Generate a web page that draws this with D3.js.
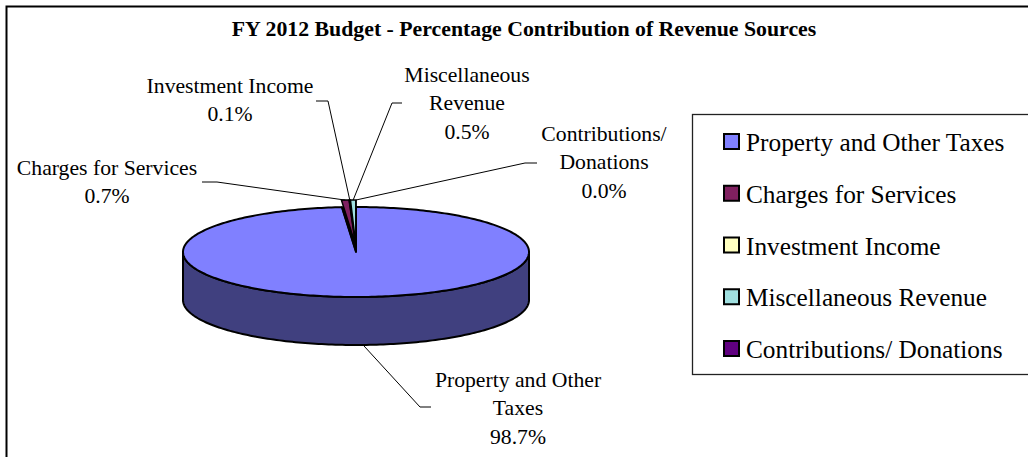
<!DOCTYPE html>
<html>
<head>
<meta charset="utf-8">
<script src="https://cdn.jsdelivr.net/npm/d3@7/dist/d3.min.js"></script>
<style>
  html, body { margin: 0; padding: 0; background: #fff; }
  svg { display: block; font-family: "Liberation Serif", "Times New Roman", serif; }
</style>
</head>
<body>
<svg id="chart" width="1028" height="457"></svg>
<script>
// Revenue sources and their share of the FY 2012 budget (percent)
const categories = [
  "Property and Other Taxes",
  "Charges for Services",
  "Investment Income",
  "Miscellaneous Revenue",
  "Contributions/ Donations"
];
const shares = [98.7, 0.7, 0.1, 0.5, 0.0];
const title = "FY 2012 Budget - Percentage Contribution of Revenue Sources";

// Slice label text lines (percent appended from the share)
const labelLines = [
  ["Property and Other", "Taxes"],
  ["Charges for Services"],
  ["Investment Income"],
  ["Miscellaneous", "Revenue"],
  ["Contributions/", "Donations"]
];

// Styling
const topColors  = ["#8080ff", "#802060", "#ffffc0", "#a0e0e0", "#600080"];
const sideColors = ["#40407f", "#401030", "#808060", "#507070", "#300040"];

// Label placement: text centre x, first line y, leader start & elbow
const labelLayout = [
  { x: 518, y: 380, start: [431, 407], elbow: [420, 407] },
  { x: 107, y: 168, start: [202, 182], elbow: [217, 182] },
  { x: 230, y: 86,  start: [316, 101], elbow: [328, 101] },
  { x: 467, y: 75,  start: [402, 103], elbow: [392, 103] },
  { x: 604, y: 134, start: [537, 163], elbow: [525, 163] }
];

const svg = d3.select("#chart");

// Chart area frame
svg.append("rect")
  .attr("x", 6.5).attr("y", 6.5)
  .attr("width", 1040).attr("height", 470)
  .attr("fill", "#fff").attr("stroke", "#000").attr("stroke-width", 2);

svg.append("text")
  .attr("x", 524).attr("y", 29)
  .attr("text-anchor", "middle").attr("dominant-baseline", "central")
  .attr("font-weight", "bold").attr("font-size", 21.8)
  .text(title);

// 3-D pie geometry
const cx = 356, cy = 252, rx = 173, ry = 45, depth = 48, explode = 7;
const ell = (a, r = 1) => [cx + rx * r * Math.sin(a), cy - ry * r * Math.cos(a)];

const pie = d3.pie().sort(null).value(d => d).startAngle(0).endAngle(2 * Math.PI);
const arcs = pie(shares).map((a, i) => ({ ...a, i }));

const line = d3.line();
function arcPoints(a0, a1, dy = 0) {
  const n = Math.max(2, Math.ceil(Math.abs(a1 - a0) / 0.02));
  return d3.range(n + 1).map(k => {
    const a = a0 + (a1 - a0) * k / n;
    const p = ell(a);
    return [p[0], p[1] + dy];
  });
}
function offsetOf(d) {
  if (d.index === 0) return [0, 0];
  const m = (d.startAngle + d.endAngle) / 2;
  return [explode * Math.sin(m), -explode * Math.cos(m)];
}
function slicePath(d) {
  const [ox, oy] = offsetOf(d);
  const pts = [[cx, cy], ...arcPoints(d.startAngle, d.endAngle)]
    .map(p => [p[0] + ox, p[1] + oy]);
  return line(pts) + "Z";
}

const pieG = svg.append("g");

// Front wall of the main slice
const main = arcs[0];
const wallA0 = Math.max(main.startAngle, Math.PI / 2);
const wallA1 = Math.min(main.endAngle, 3 * Math.PI / 2);
const wallPts = arcPoints(wallA0, wallA1).concat(arcPoints(wallA1, wallA0, depth));
pieG.append("path")
  .attr("d", line(wallPts) + "Z")
  .attr("fill", sideColors[0])
  .attr("stroke", "#000").attr("stroke-width", 2).attr("stroke-linejoin", "round");

// Top of the main slice
pieG.append("path")
  .attr("d", slicePath(main))
  .attr("fill", topColors[0])
  .attr("stroke", "#000").attr("stroke-width", 2).attr("stroke-linejoin", "round");

// Gap left by the pulled-out small slices
const small = arcs.slice(1);
pieG.append("path")
  .attr("d", line([[cx, cy], ...arcPoints(main.endAngle, 2 * Math.PI)]) + "Z")
  .attr("fill", "#000").attr("stroke", "#000").attr("stroke-width", 1.5);

// Small slices, slightly exploded
pieG.selectAll("path.small")
  .data(small)
  .join("path")
  .attr("class", "small")
  .attr("d", slicePath)
  .attr("fill", d => topColors[d.i])
  .attr("stroke", "#000").attr("stroke-width", 1.5).attr("stroke-linejoin", "miter");

// Leader lines and labels
const labelG = svg.append("g");
arcs.forEach(d => {
  const L = labelLayout[d.i];
  const m = (d.startAngle + d.endAngle) / 2;
  const [ox, oy] = offsetOf(d);
  const p = ell(m);
  const end = Math.cos(m) < 0
    ? [p[0] + ox, p[1] + depth + oy]
    : [p[0] + ox, p[1] + oy];
  labelG.append("path")
    .attr("d", line([L.start, L.elbow, end]))
    .attr("fill", "none").attr("stroke", "#000").attr("stroke-width", 1);

  const lines = labelLines[d.i].concat([shares[d.i].toFixed(1) + "%"]);
  const t = labelG.append("text")
    .attr("text-anchor", "middle")
    .attr("font-size", 21.7)
    .attr("fill", "#000");
  lines.forEach((s, k) => {
    t.append("tspan")
      .attr("x", L.x)
      .attr("y", L.y + k * 28.3)
      .attr("dominant-baseline", "central")
      .text(s);
  });
});

// Legend
const legendG = svg.append("g");
legendG.append("rect")
  .attr("x", 692.5).attr("y", 114.5)
  .attr("width", 360).attr("height", 260)
  .attr("fill", "#fff").attr("stroke", "#222").attr("stroke-width", 1.3);

const rowY = d3.scalePoint().domain(d3.range(categories.length)).range([133, 340]);
const rows = legendG.selectAll("g.row")
  .data(categories)
  .join("g")
  .attr("class", "row")
  .attr("transform", (d, i) => `translate(0,${rowY(i)})`);
rows.append("rect")
  .attr("x", 724).attr("y", 1)
  .attr("width", 15).attr("height", 15)
  .attr("fill", (d, i) => topColors[i])
  .attr("stroke", "#000").attr("stroke-width", 2);
rows.append("text")
  .attr("x", 746).attr("y", 18)
  .attr("font-size", 25.3)
  .text(d => d);
</script>
</body>
</html>
